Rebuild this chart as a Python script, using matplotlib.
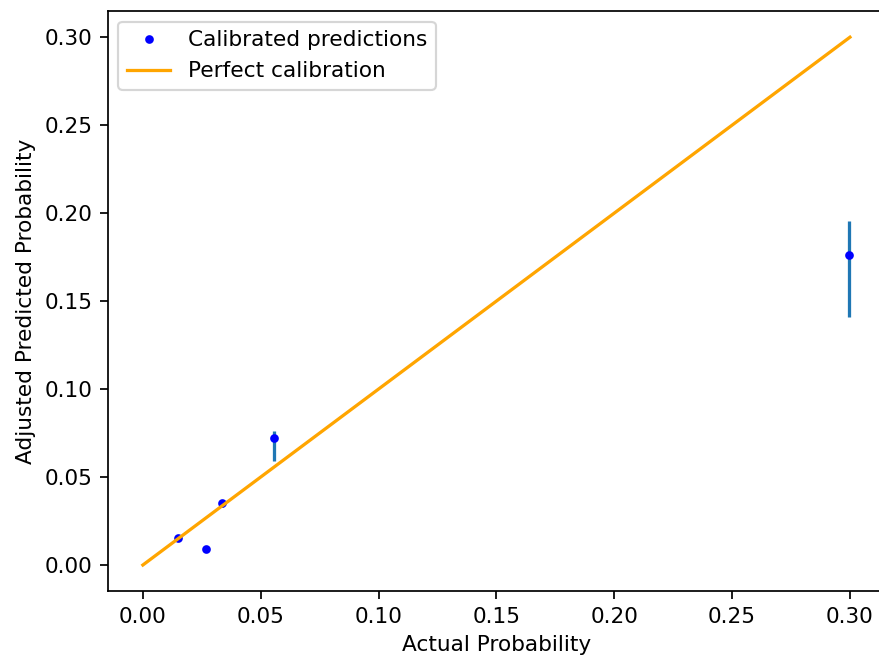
import matplotlib
matplotlib.use("Agg")
import matplotlib.pyplot as plt
import numpy as np

actual = [0.015, 0.0266, 0.0336, 0.0557, 0.2997]
predicted = [0.0152, 0.0089, 0.0350, 0.0723, 0.1761]
err_low = [0.001, 0.001, 0.002, 0.013, 0.0354]
err_high = [0.001, 0.001, 0.001, 0.004, 0.0195]
diag = [0.0, 0.30]

dpi = 156
fig = plt.figure(figsize=(879 / dpi, 658 / dpi), dpi=dpi)
left, right, top, bottom = 107.5, 885.3, 10.8, 591.4
ax = fig.add_axes([left / 879, (658 - bottom) / 658, (right - left) / 879, (bottom - top) / 658])

ax.errorbar(actual, predicted, yerr=[err_low, err_high], fmt='none', ecolor='C0')
ax.plot(actual, predicted, 'b.', label='Calibrated predictions')
ax.plot(diag, diag, color='orange', label='Perfect calibration')
ax.set_xlabel('Actual Probability')
ax.set_ylabel('Adjusted Predicted Probability')
ax.legend(loc='upper left')

fig.savefig('out.png', dpi=dpi)
